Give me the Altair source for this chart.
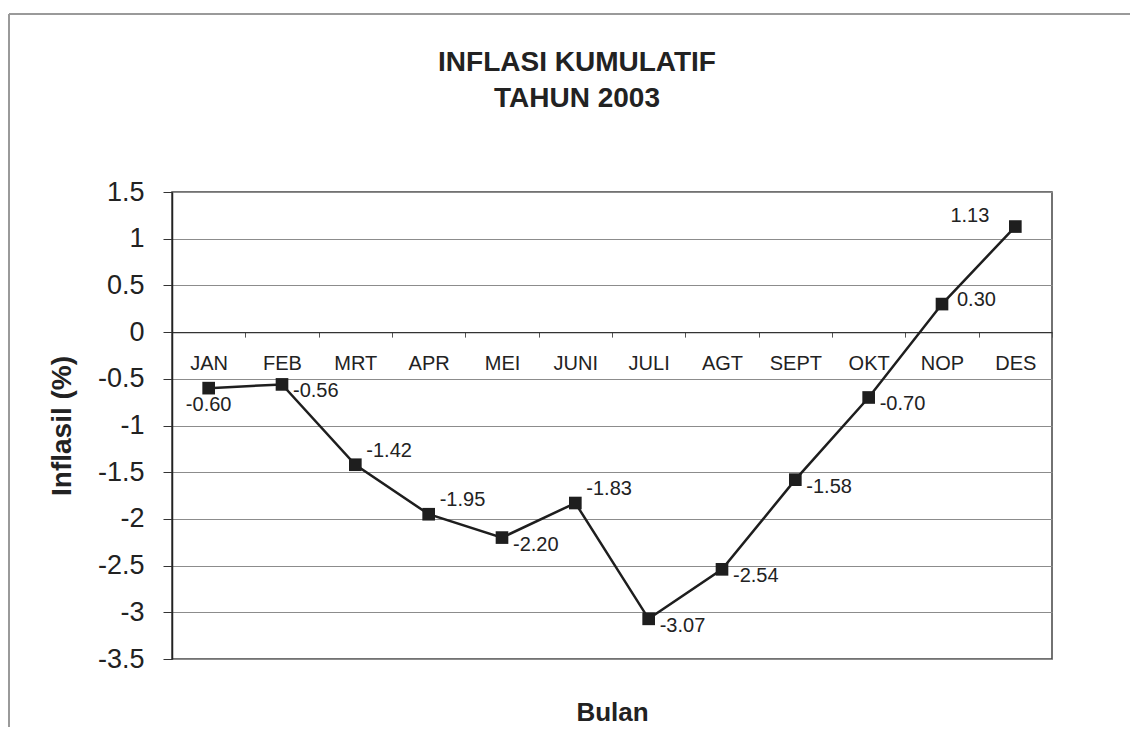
import altair as alt
import pandas as pd

months = ["JAN", "FEB", "MRT", "APR", "MEI", "JUNI", "JULI", "AGT", "SEPT", "OKT", "NOP", "DES"]
inflation = [-0.60, -0.56, -1.42, -1.95, -2.20, -1.83, -3.07, -2.54, -1.58, -0.70, 0.30, 1.13]
y_ticks = [1.5, 1, 0.5, 0, -0.5, -1, -1.5, -2, -2.5, -3, -3.5]

labels_below = ["JAN"]
labels_right_low = ["FEB", "MEI", "JULI", "AGT", "SEPT", "OKT"]
labels_right_high = ["MRT", "APR", "JUNI"]
labels_right = ["NOP"]
labels_left_high = ["DES"]

df = pd.DataFrame({
    "month": months,
    "value": inflation,
    "label": [f"{v:.2f}" for v in inflation],
})

W, H = 880, 467
FONT = "Liberation Sans"
INK = "#1e1e1e"

x_enc = alt.X(
    "month:N", sort=months,
    scale=alt.Scale(type="band", paddingInner=0, paddingOuter=0),
    axis=alt.Axis(
        title="Bulan", titleFontSize=26, titleFontWeight="bold", titleFont=FONT,
        titleColor="#222", titleY=380, titleBaseline="middle",
        labelAngle=0, labelFontSize=20, labelFont=FONT, labelColor="#222",
        labelPadding=16, tickBand="extent", tickSize=5, tickColor="#555",
        domainColor="#333", domainWidth=1.2, offset=-(H * 0.7), grid=False,
    ),
)
y_enc = alt.Y(
    "value:Q",
    scale=alt.Scale(domain=[-3.5, 1.5], nice=False, zero=False),
    axis=alt.Axis(
        values=y_ticks, labelExpr="'' + datum.value",
        labelFontSize=27, labelFont=FONT, labelColor="#222", labelPadding=19,
        tickSize=9, tickColor="#333", domainColor="#222", domainWidth=1.5,
        grid=True, gridColor="#8c8c8c", gridWidth=1,
        title="Inflasil (%)", titleFontSize=28, titleFontWeight="bold",
        titleFont=FONT, titleColor="#222", titleAngle=270,
        titleX=-110, titleY=H / 2, titleBaseline="middle", titleAlign="center",
    ),
)

base = alt.Chart(df).encode(x=x_enc, y=y_enc)

line = base.mark_line(color=INK, strokeWidth=2.5)
points = base.mark_point(shape="square", filled=True, size=160, color=INK, opacity=1)


def labels(group, dx, dy, align="left"):
    return base.mark_text(
        font=FONT, fontSize=20, color="#222", align=align, baseline="middle",
        dx=dx, dy=dy,
    ).encode(text="label:N").transform_filter(
        alt.FieldOneOfPredicate(field="month", oneOf=group)
    )


txt_below = labels(labels_below, 0, 17, "center")
txt_rlow = labels(labels_right_low, 11, 7)
txt_rhigh = labels(labels_right_high, 11, -14)
txt_r = labels(labels_right, 15, -4)
txt_lhigh = labels(labels_left_high, -26, -11, "right")

frame_df = pd.DataFrame({"k": [0]})
border_top = alt.Chart(frame_df).mark_rule(color="#9a9a9a", strokeWidth=2).encode(
    x=alt.value(-163), x2=alt.value(W + 80), y=alt.value(-178)
)
border_left = alt.Chart(frame_df).mark_rule(color="#9a9a9a", strokeWidth=2).encode(
    x=alt.value(-163), y=alt.value(-178), y2=alt.value(H + 80)
)

chart = alt.layer(
    border_top, border_left, line, points,
    txt_below, txt_rlow, txt_rhigh, txt_r, txt_lhigh,
).properties(
    width=W, height=H,
    title=alt.TitleParams(
        text=["INFLASI KUMULATIF", "TAHUN 2003"], fontSize=28, fontWeight="bold",
        font=FONT, color="#222", anchor="middle", dx=-35, offset=-128,
        baseline="bottom", lineHeight=36,
    ),
    autosize=alt.AutoSizeParams(type="none"),
    padding={"left": 164, "top": 184, "right": 78, "bottom": 68},
    background="white",
).configure_view(stroke="#444", strokeWidth=1.5)

chart.save("out.html", embed_options={"renderer": "svg", "actions": False})
